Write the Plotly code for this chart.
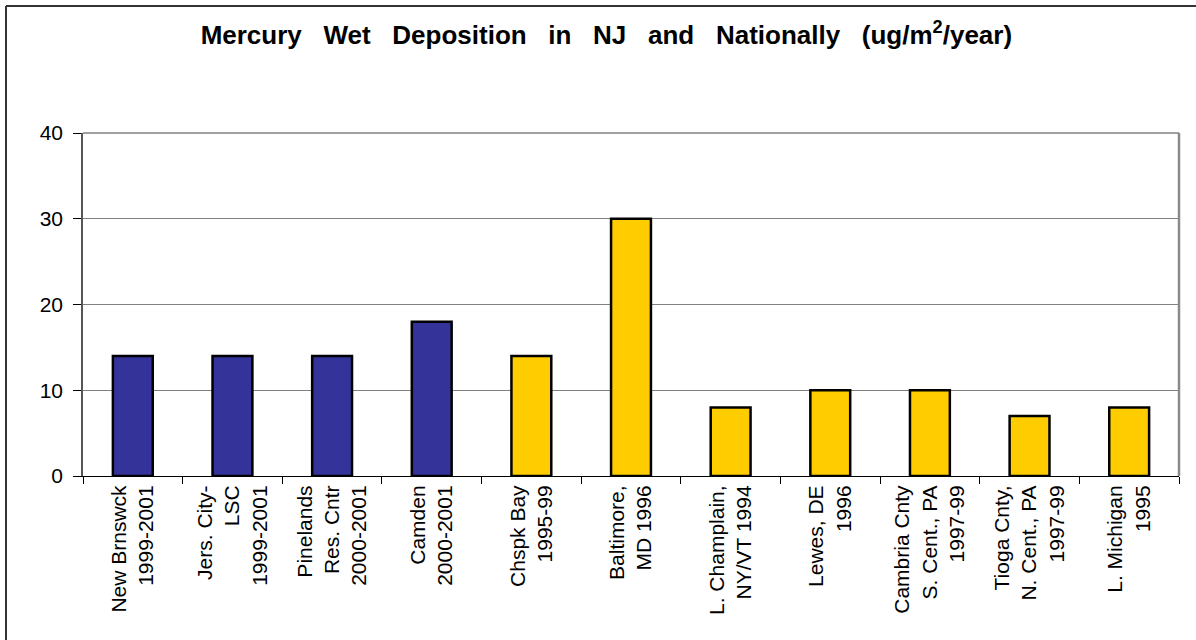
import plotly.graph_objects as go

categories = [
    "New Brnswck<br>1999-2001",
    "Jers. City-<br>LSC<br>1999-2001",
    "Pinelands<br>Res. Cntr<br>2000-2001",
    "Camden<br>2000-2001",
    "Chspk Bay<br>1995-99",
    "Baltimore,<br>MD 1996",
    "L. Champlain,<br>NY/VT 1994",
    "Lewes, DE<br>1996",
    "Cambria Cnty<br>S. Cent., PA<br>1997-99",
    "Tioga Cnty,<br>N. Cent., PA<br>1997-99",
    "L. Michigan<br>1995",
]
values = [14, 14, 14, 18, 14, 30, 8, 10, 10, 7, 8]
region = ["NJ", "NJ", "NJ", "NJ", "US", "US", "US", "US", "US", "US", "US"]
color_map = {"NJ": "#333399", "US": "#FFCC00"}
y_ticks = [0, 10, 20, 30, 40]

fig = go.Figure()
fig.add_trace(go.Bar(
    x=categories,
    y=values,
    marker=dict(color=[color_map[r] for r in region],
                line=dict(color="#000000", width=2.5)),
    width=0.4,
    showlegend=False,
))

font_family = "Liberation Sans, Arial, sans-serif"

fig.update_layout(
    width=1196, height=640,
    margin=dict(l=83, r=17, t=133, b=164),
    paper_bgcolor="white", plot_bgcolor="white",
    title=dict(
        text="Mercury   Wet   Deposition   in   NJ   and   Nationally   (ug/m<sup>2</sup>/year)",
        x=0.507, xanchor="center", y=0.945, yanchor="middle",
        font=dict(family=font_family, size=26, color="#000000", weight="bold"),
    ),
    font=dict(family=font_family, color="#000000"),
)

fig.update_xaxes(
    tickangle=-90,
    tickfont=dict(size=21, family=font_family),
    ticks="outside", tickson="boundaries", ticklen=7, tickcolor="#000000",
    showline=True, linecolor="#000000", linewidth=1,
    showgrid=False,
)
fig.update_yaxes(
    range=[0, 40], tickvals=y_ticks,
    tickfont=dict(size=21, family=font_family),
    ticks="outside", ticklen=8, tickcolor="#000000",
    showline=True, linecolor="#555555", linewidth=1.5,
    showgrid=True, gridcolor="#808080", gridwidth=1,
    zeroline=False, ticklabelstandoff=6,
)

# top border of plot area (gridline at 40)
fig.add_shape(type="line", xref="paper", yref="paper", x0=0, x1=1, y0=1, y1=1,
              line=dict(color="#808080", width=1.5))
# right border of plot area (gray)
fig.add_shape(type="line", xref="paper", yref="paper", x0=1, x1=1, y0=0, y1=1,
              line=dict(color="#8a8a8a", width=2.5))
# outer chart frame (top and left edges visible)
fig.add_shape(type="line", xref="paper", yref="paper",
              x0=-77/1096, x1=1.2, y0=1 + 127/343, y1=1 + 127/343,
              line=dict(color="#333333", width=2))
fig.add_shape(type="line", xref="paper", yref="paper",
              x0=-77/1096, x1=-77/1096, y0=1 + 127/343, y1=-0.6,
              line=dict(color="#333333", width=2))

fig.write_html("out.html", config={"displayModeBar": False})

# remove the browser's default page margin so the figure sits at (0, 0)
with open("out.html", "r", encoding="utf-8") as f:
    html = f.read()
html = html.replace("<head>", "<head><style>html,body{margin:0;padding:0;}</style>", 1)
with open("out.html", "w", encoding="utf-8") as f:
    f.write(html)
